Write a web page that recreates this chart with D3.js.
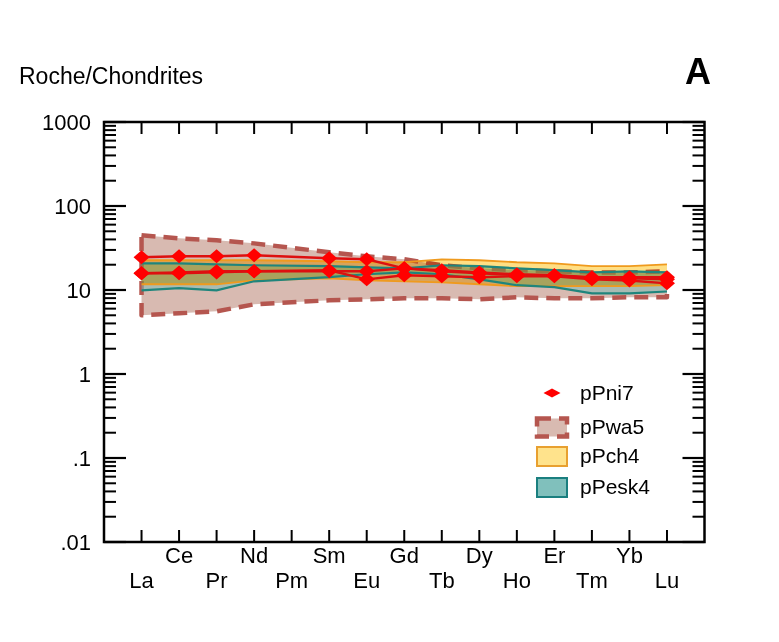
<!DOCTYPE html>
<html>
<head>
<meta charset="utf-8">
<script src="https://cdn.jsdelivr.net/npm/d3@7"></script>
<style>
  body { margin: 0; background: #fff; }
  text { font-family: Arial, "Liberation Sans", sans-serif; fill: #000; }
</style>
</head>
<body>
<script>
// REE pattern, normalised to chondrites
const elements = ["La","Ce","Pr","Nd","Pm","Sm","Eu","Gd","Tb","Dy","Ho","Er","Tm","Yb","Lu"];
const yTicks = [0.01, 0.1, 1, 10, 100, 1000];
const yTickLabels = [".01", ".1", "1", "10", "100", "1000"];

// pPni7 samples (Pm not analysed)
const pni7_a = [24.5, 25.2, 25.2, 25.9, null, 23.9, 23.2, 18.1, 16.7, 15.8, 15.0, 15.0, 13.8, 13.8, 13.4];
const pni7_b = [15.8, 15.8, 16.2, 16.7, null, 16.7, 16.7, 18.1, 17.2, 16.2, 15.4, 15.0, 14.2, 14.2, 14.2];
const pni7_c = [15.8, 16.2, 16.7, 16.7, null, 17.2, 13.4, 15.0, 14.6, 14.2, 14.6, 14.6, 13.4, 13.0, 12.0];

// envelopes: max / min
const pwa5_max = [44.8, 41.2, 39.1, 35.9, null, 28.1, 25.2, 23.2, 19.7, 18.1, 17.2, 16.7, 16.2, 16.2, 16.7];
const pwa5_min = [5.0, 5.28, 5.57, 6.76, null, 7.54, 7.75, 7.96, 7.96, 7.75, 8.19, 7.96, 7.96, 8.19, 8.19];
const pch4_max = [22.6, 22.6, 22.6, 22.6, null, 22.0, 21.4, 21.4, 23.2, 22.6, 21.4, 20.8, 19.2, 19.2, 20.2];
const pch4_min = [11.7, 11.7, 11.7, 13.0, null, 13.8, 13.0, 12.7, 12.3, 11.7, 11.1, 11.1, 11.1, 11.1, 11.4];
const pesk4_max = [20.8, 20.8, 20.2, 19.7, null, 19.2, 18.6, 18.1, 19.7, 19.2, 18.1, 17.2, 16.2, 16.7, 16.2];
const pesk4_min = [9.9, 10.5, 9.9, 12.7, null, 14.2, 15.4, 16.2, 15.4, 13.4, 11.4, 10.8, 9.1, 9.1, 9.6];

const width = 779, height = 642;
const pL = 104, pR = 704.5, pT = 122, pB = 542;

const svg = d3.select("body").append("svg")
  .attr("width", width)
  .attr("height", height);

const x = d3.scaleLinear().domain([-1, elements.length]).range([pL, pR]);
const y = d3.scaleLog().domain([0.01, 1000]).range([pB, pT]);

function pts(vals) {
  return vals.map((v, i) => [i, v]).filter(d => d[1] != null);
}

const line = d3.line().x(d => x(d[0])).y(d => y(d[1]));

function envelope(maxv, minv) {
  const up = pts(maxv), lo = pts(minv).reverse();
  return line(up.concat(lo)) + "Z";
}

const plot = svg.append("g").attr("class", "plot");

// pPwa5
plot.append("path")
  .attr("d", envelope(pwa5_max, pwa5_min))
  .attr("fill", "#d8bab1")
  .attr("stroke", "#b5564f")
  .attr("stroke-width", 4.5)
  .attr("stroke-dasharray", "14,8")
  .attr("stroke-linejoin", "round");

// pPesk4
plot.append("path")
  .attr("d", envelope(pesk4_max, pesk4_min))
  .attr("fill", "#78bcb6")
  .attr("fill-opacity", 0.5)
  .attr("stroke", "none");

// pPch4
plot.append("path")
  .attr("d", envelope(pch4_max, pch4_min))
  .attr("fill", "#ffdf84")
  .style("mix-blend-mode", "multiply")
  .attr("stroke", "none");

[pch4_max, pch4_min].forEach(s => {
  plot.append("path").attr("d", line(pts(s)))
    .attr("fill", "none").attr("stroke", "#ef9a1e").attr("stroke-width", 1.8);
});
[pesk4_max, pesk4_min].forEach(s => {
  plot.append("path").attr("d", line(pts(s)))
    .attr("fill", "none").attr("stroke", "#1f857c").attr("stroke-width", 2.2);
});

// pPni7 lines + diamonds
const samples = [pni7_a, pni7_b, pni7_c];
samples.forEach(s => {
  plot.append("path").attr("d", line(pts(s)))
    .attr("fill", "none").attr("stroke", "#dd1010").attr("stroke-width", 2.4);
});
const diamond = (w, h) => `M${-w},0L0,${-h}L${w},0L0,${h}Z`;
samples.forEach(s => {
  plot.selectAll(null).data(pts(s)).enter().append("path")
    .attr("transform", d => `translate(${x(d[0])},${y(d[1])})`)
    .attr("d", diamond(8, 7))
    .attr("fill", "#ff0000");
});

// axes
const axes = svg.append("g").attr("stroke", "#000").attr("fill", "none");
axes.append("rect")
  .attr("x", pL).attr("y", pT)
  .attr("width", pR - pL).attr("height", pB - pT)
  .attr("stroke-width", 2.5);

const minor = [];
for (let e = -2; e < 3; e++) {
  for (let m = 2; m <= 9; m++) minor.push(m * Math.pow(10, e));
}
// left and right: major 22px, minor 12px, pointing inward
yTicks.forEach(v => {
  axes.append("line").attr("x1", pL).attr("x2", pL + 22).attr("y1", y(v)).attr("y2", y(v)).attr("stroke-width", 2.2);
  axes.append("line").attr("x1", pR).attr("x2", pR - 22).attr("y1", y(v)).attr("y2", y(v)).attr("stroke-width", 2.2);
});
minor.forEach(v => {
  axes.append("line").attr("x1", pL).attr("x2", pL + 12).attr("y1", y(v)).attr("y2", y(v)).attr("stroke-width", 2);
  axes.append("line").attr("x1", pR).attr("x2", pR - 12).attr("y1", y(v)).attr("y2", y(v)).attr("stroke-width", 2);
});
// top and bottom: a tick at every element
elements.forEach((el, i) => {
  axes.append("line").attr("x1", x(i)).attr("x2", x(i)).attr("y1", pB).attr("y2", pB - 12).attr("stroke-width", 2);
  axes.append("line").attr("x1", x(i)).attr("x2", x(i)).attr("y1", pT).attr("y2", pT + 12).attr("stroke-width", 2);
});

// tick labels
svg.append("g").selectAll("text").data(yTicks).enter().append("text")
  .attr("x", 91)
  .attr("y", d => y(d) + 8)
  .attr("text-anchor", "end")
  .style("font-size", "22px")
  .text((d, i) => yTickLabels[i]);

svg.append("g").selectAll("text").data(elements).enter().append("text")
  .attr("x", (d, i) => x(i))
  .attr("y", (d, i) => i % 2 ? 563 : 588)
  .attr("text-anchor", "middle")
  .style("font-size", "22px")
  .text(d => d);

svg.append("text").attr("x", 19).attr("y", 84)
  .style("font-size", "23px").text("Roche/Chondrites");
svg.append("text").attr("x", 711).attr("y", 84)
  .attr("text-anchor", "end")
  .style("font-size", "36px").style("font-weight", "bold").text("A");

// legend
const lg = svg.append("g");
lg.append("path").attr("transform", "translate(552,393)").attr("d", diamond(8.5, 4.5)).attr("fill", "#ff0000");
lg.append("text").attr("x", 580).attr("y", 400).style("font-size", "21px").text("pPni7");

lg.append("rect").attr("x", 537).attr("y", 418.5).attr("width", 30).attr("height", 18)
  .attr("fill", "#d8bab1").attr("stroke", "#b5564f").attr("stroke-width", 4.5).attr("stroke-dasharray", "14,8");
lg.append("text").attr("x", 580).attr("y", 434).style("font-size", "21px").text("pPwa5");

lg.append("rect").attr("x", 537).attr("y", 447).attr("width", 30).attr("height", 19)
  .attr("fill", "#ffe38c").attr("stroke", "#e8a030").attr("stroke-width", 2);
lg.append("text").attr("x", 580).attr("y", 463).style("font-size", "21px").text("pPch4");

lg.append("rect").attr("x", 537).attr("y", 478).attr("width", 30).attr("height", 19)
  .attr("fill", "#80c0bc").attr("stroke", "#1a7f7f").attr("stroke-width", 2);
lg.append("text").attr("x", 580).attr("y", 494).style("font-size", "21px").text("pPesk4");
</script>
</body>
</html>
